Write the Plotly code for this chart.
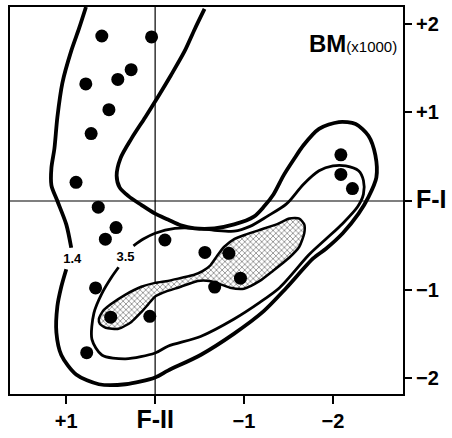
import plotly.graph_objects as go

# ---- data (axis units: F-II horizontal, F-I vertical) ----
dots_x = [0.60, 0.04, 0.27, 0.42, 0.78, 0.52, 0.72, 0.89, 0.64, 0.44, 0.56, -0.11,
          0.67, 0.50, 0.06, 0.77, -0.56, -0.83, -0.96, -0.67, -2.09, -2.09, -2.22]
dots_y = [1.86, 1.85, 1.48, 1.37, 1.32, 1.03, 0.76, 0.21, -0.07, -0.30, -0.43, -0.44,
          -0.98, -1.31, -1.30, -1.71, -0.58, -0.59, -0.87, -0.97, 0.52, 0.30, 0.14]

# contour 1.4 (part from top-right end round to the label)
c14a_x = [-0.556, -0.444, -0.333, -0.178, -0.033, 0.111, 0.267, 0.389, 0.433, 0.400,
          0.300, 0.156, 0.0, -0.144, -0.289, -0.444, -0.667, -0.889, -1.111, -1.222,
          -1.333, -1.444, -1.556, -1.667, -1.844, -2.067, -2.256, -2.400, -2.478, -2.489,
          -2.400, -2.289, -2.111, -1.922, -1.778, -1.478, -1.222, -0.889, -0.511, -0.144,
          0.0, 0.333, 0.633, 0.889, 1.056, 1.111, 1.100, 1.056, 1.000]
c14a_y = [2.165, 1.934, 1.692, 1.418, 1.176, 0.945, 0.703, 0.484, 0.286, 0.154,
          0.055, -0.044, -0.143, -0.209, -0.275, -0.308, -0.308, -0.264, -0.176, -0.066,
          0.077, 0.286, 0.462, 0.626, 0.813, 0.890, 0.868, 0.736, 0.516, 0.264,
          0.044, -0.143, -0.363, -0.538, -0.648, -0.978, -1.242, -1.495, -1.736, -1.912,
          -1.989, -2.066, -2.066, -1.956, -1.736, -1.484, -1.187, -0.967, -0.769]
# contour 1.4 (part from the label up to the top-left end)
c14b_x = [0.944, 1.000, 1.100, 1.167, 1.167, 1.133, 1.100, 1.044, 0.944, 0.856, 0.778]
c14b_y = [-0.527, -0.264, 0.0, 0.176, 0.374, 0.593, 0.945, 1.330, 1.692, 1.945, 2.187]

# contour 3.5 (open at its label)
c35_x = [0.244, 0.133, 0.0, -0.222, -0.478, -0.667, -0.889, -1.067, -1.256, -1.478,
         -1.667, -1.844, -2.0, -2.144, -2.289, -2.344, -2.344, -2.278, -2.111, -1.922,
         -1.733, -1.400, -1.178, -0.889, -0.511, -0.144, 0.0, 0.333, 0.600, 0.711,
         0.689, 0.600, 0.489, 0.411]
c35_y = [-0.505, -0.429, -0.363, -0.308, -0.308, -0.330, -0.341, -0.286, -0.176, -0.033,
         0.187, 0.341, 0.396, 0.396, 0.341, 0.231, 0.077, -0.066, -0.253, -0.429,
         -0.604, -0.978, -1.143, -1.330, -1.527, -1.637, -1.714, -1.780, -1.736, -1.560,
         -1.264, -1.044, -0.857, -0.747]

# stippled core region
blob_x = [0.633, 0.589, 0.500, 0.333, 0.156, 0.0, -0.144, -0.289, -0.433, -0.533,
          -0.622, -0.700, -0.778, -0.889, -1.033, -1.200, -1.367, -1.511, -1.622, -1.678,
          -1.678, -1.622, -1.511, -1.322, -1.178, -1.000, -0.844, -0.722, -0.611, -0.478,
          -0.289, -0.089, 0.0, 0.078, 0.156, 0.267, 0.411, 0.556, 0.622, 0.633]
blob_y = [-1.330, -1.242, -1.165, -1.055, -0.967, -0.923, -0.901, -0.868, -0.835, -0.791,
          -0.725, -0.615, -0.516, -0.429, -0.374, -0.319, -0.264, -0.198, -0.198, -0.264,
          -0.363, -0.516, -0.637, -0.791, -0.901, -0.989, -0.978, -0.934, -0.901, -0.901,
          -0.967, -1.033, -1.077, -1.165, -1.253, -1.363, -1.440, -1.429, -1.385, -1.330]

contour_labels = ["1.4", "3.5"]
label_x = [0.933, 0.333]
label_y = [-0.659, -0.637]

x_tickvals = [1, 0, -1, -2]
x_ticktext = ["+1", "F-II", "\u22121", "\u22122"]
y_tickvals = [2, 1, 0, -1, -2]
y_ticktext = ["+2", "+1", "F-I", "\u22121", "\u22122"]

FONT = "Liberation Sans, Arial, sans-serif"


def fmt(t):
    if t.startswith("F"):
        return "<b><span style='font-size:25px'>%s</span></b>" % t
    return "<b>%s</b>" % t


fig = go.Figure()

fig.add_trace(go.Scatter(
    x=blob_x, y=blob_y, mode="lines", fill="toself",
    line=dict(color="black", width=2.5, shape="spline", smoothing=0.6),
    fillcolor="white",
    fillpattern=dict(shape="x", size=4, solidity=0.35, fgcolor="black", bgcolor="white"),
    hoverinfo="skip", showlegend=False))

fig.add_trace(go.Scatter(
    x=c14a_x, y=c14a_y, mode="lines",
    line=dict(color="black", width=3.8, shape="spline", smoothing=0.8),
    hoverinfo="skip", showlegend=False))
fig.add_trace(go.Scatter(
    x=c14b_x, y=c14b_y, mode="lines",
    line=dict(color="black", width=3.8, shape="spline", smoothing=0.8),
    hoverinfo="skip", showlegend=False))
fig.add_trace(go.Scatter(
    x=c35_x, y=c35_y, mode="lines",
    line=dict(color="black", width=2.8, shape="spline", smoothing=0.8),
    hoverinfo="skip", showlegend=False))

fig.add_trace(go.Scatter(
    x=dots_x, y=dots_y, mode="markers",
    marker=dict(color="black", size=13, line=dict(width=0)),
    hoverinfo="skip", showlegend=False))

fig.add_trace(go.Scatter(
    x=label_x, y=label_y, mode="text",
    text=["<b>%s</b>" % t for t in contour_labels],
    textfont=dict(family=FONT, size=13, color="black"),
    hoverinfo="skip", showlegend=False))

# reference axes F-I (horizontal) and F-II (vertical)
fig.add_shape(type="line", xref="x", yref="paper", x0=0, x1=0, y0=0, y1=1,
              line=dict(color="black", width=1.2), layer="below")
fig.add_shape(type="line", xref="paper", yref="y", x0=0, x1=1, y0=0, y1=0,
              line=dict(color="black", width=1.2), layer="below")

fig.add_annotation(x=-2.74, y=1.77, xref="x", yref="y", xanchor="right", yanchor="middle",
                   text="<b>BM</b><span style='font-size:15px'>(x1000)</span>",
                   showarrow=False, font=dict(family=FONT, size=24, color="black"))

fig.update_layout(
    width=452, height=438, autosize=False,
    margin=dict(l=10, r=44, t=5, b=36),
    paper_bgcolor="white", plot_bgcolor="white",
    font=dict(family=FONT, color="black"),
    xaxis=dict(range=[1.633, -2.789], tickvals=x_tickvals,
               ticktext=[fmt(t) for t in x_ticktext],
               tickfont=dict(family=FONT, size=20, color="black"),
               ticks="outside", ticklen=8, tickwidth=2, tickcolor="black",
               showline=True, linewidth=2, linecolor="black", mirror=True,
               showgrid=False, zeroline=False),
    yaxis=dict(range=[-2.176, 2.187], side="right", tickvals=y_tickvals,
               ticktext=[fmt(t) for t in y_ticktext],
               tickfont=dict(family=FONT, size=20, color="black"),
               ticks="outside", ticklen=7, tickwidth=2, tickcolor="black",
               showline=True, linewidth=2, linecolor="black", mirror=True,
               showgrid=False, zeroline=False),
)

fig.write_html("out.html")
